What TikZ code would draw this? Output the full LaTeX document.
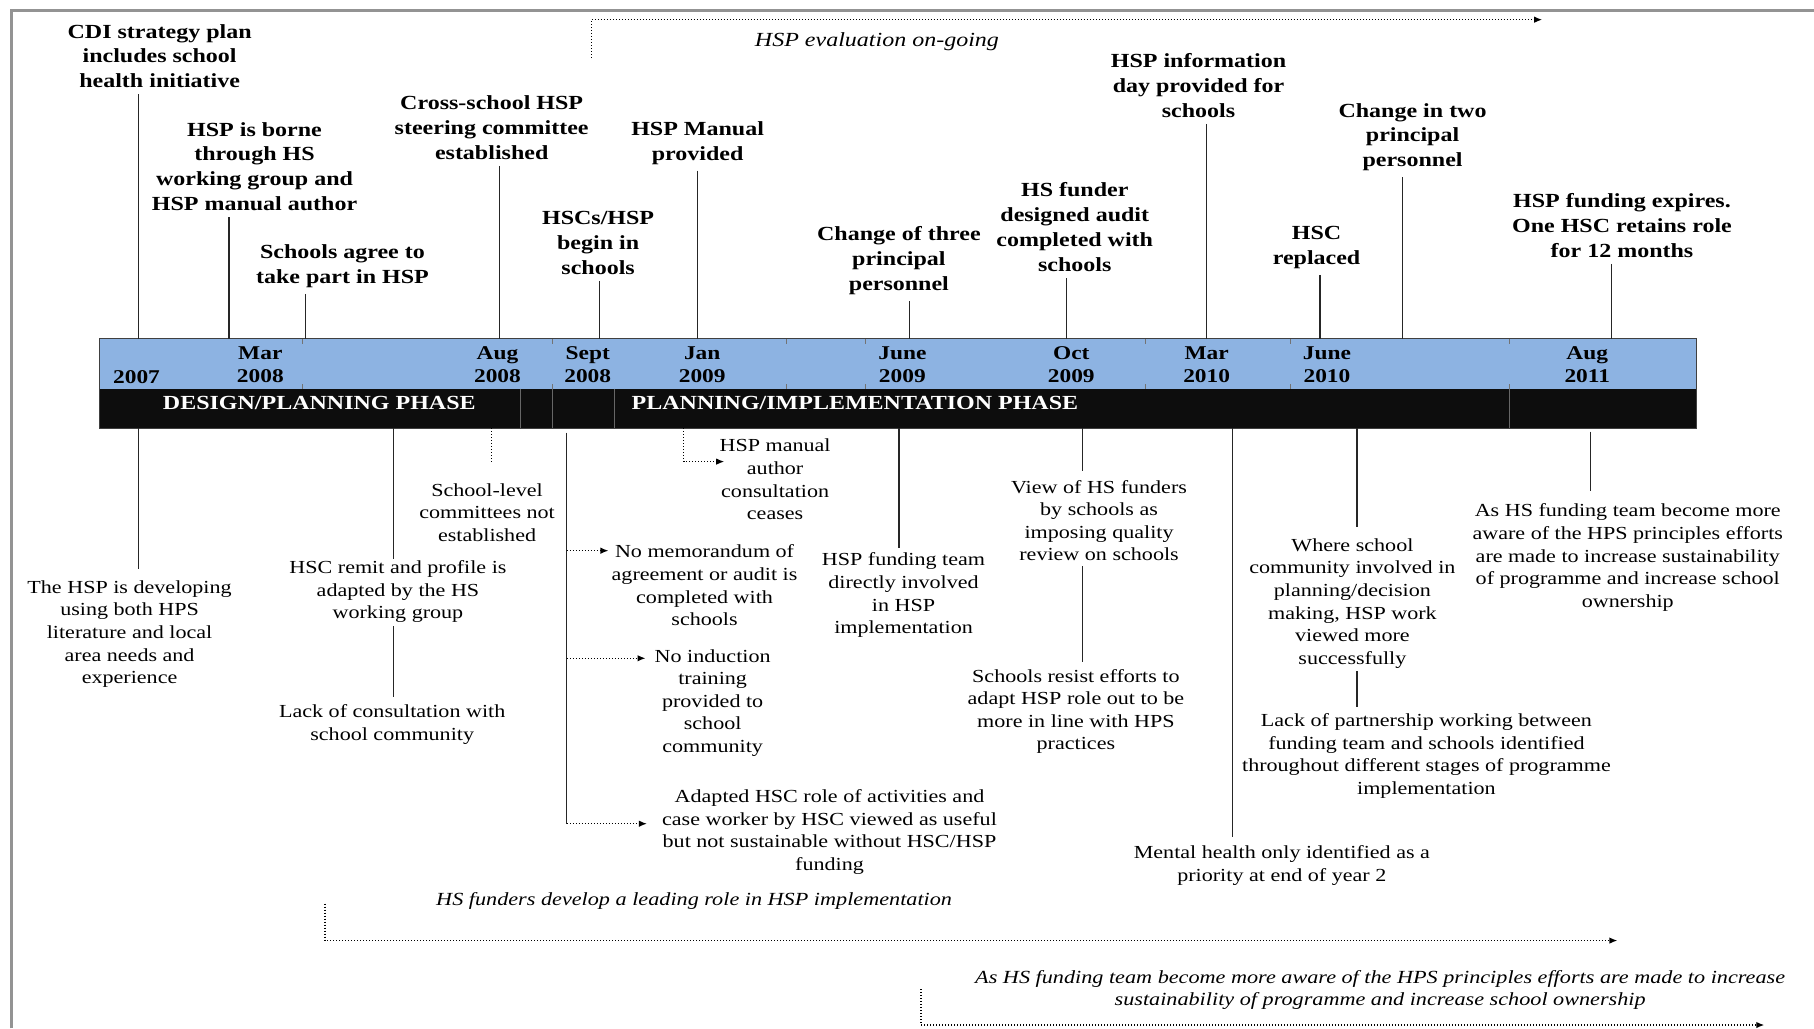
\documentclass[tikz,border=0pt]{standalone}
\usepackage{fontspec}
\setmainfont{Liberation Serif}[FakeStretch=1.2]
\usetikzlibrary{arrows.meta}
\definecolor{barblue}{HTML}{8DB3E2}
\definecolor{barblack}{HTML}{0D0D0D}
\begin{document}
\begin{tikzpicture}[x=1.157pt,y=-1.157pt,
  ev/.style={align=center,inner sep=1pt,font=\fontsize{20}{24.9}\selectfont\bfseries},
  nt/.style={align=center,inner sep=1pt,font=\fontsize{18.4}{22.6}\selectfont},
  itx/.style={align=center,inner sep=1pt,font=\fontsize{18.5}{22}\selectfont\itshape},
  yr/.style={align=center,inner sep=0pt,font=\fontsize{19.5}{23.1}\selectfont\bfseries},
  ph/.style={inner sep=0pt,text=white,font=\fontsize{20}{24}\selectfont\bfseries},
  ln/.style={line width=1.2pt,black!85},
  dl/.style={line width=1.3pt,dash pattern=on 1.3pt off 1.7pt},
  da/.style={dl,-{Latex[length=8pt,width=6.5pt]}},
  tick/.style={line width=0.6pt,black!55}
]
\useasboundingbox (0,0) rectangle (1568,889);
% frame
\draw[gray!85,line width=2.5pt] (10,889) -- (10,9) -- (1568,9);
% bar
\fill[barblue] (86,293) rectangle (1466,336);
\fill[barblack] (86,336) rectangle (1466,370);
\foreach \x in {261,477,680,748,990,1115,1305}{
  \draw[tick] (\x,293) -- (\x,297);
  \draw[tick] (\x,332) -- (\x,336);
}
\foreach \x in {450,477,531,1305}{
  \draw[line width=0.6pt,black!60!white] (\x,336) -- (\x,370);
}
\draw[line width=1pt,black!75] (86,293) rectangle (1466,370);
% year labels
\node[yr] (y1) at (118,326) {2007};
\node[yr] (y2) at (225,315) {Mar\\2008};
\node[yr] (y3) at (430,315) {Aug\\2008};
\node[yr] (y4) at (508,315) {Sept\\2008};
\node[yr] (y5) at (607,315) {Jan\\2009};
\node[yr] (y6) at (780,315) {June\\2009};
\node[yr] (y7) at (926,315) {Oct\\2009};
\node[yr] (y8) at (1043,315) {Mar\\2010};
\node[yr] (y9) at (1147,315) {June\\2010};
\node[yr] (y10) at (1372,315) {Aug\\2011};
\node[ph] (p1) at (276,348) {DESIGN/PLANNING PHASE};
\node[ph] (p2) at (739,348) {PLANNING/IMPLEMENTATION PHASE};
% coordinates on bar
\foreach \n/\x in {t1/120,t2/198,t3/264,t4/432,t5/518,t6/603,t7/786,t8/922,t9/1043,t10/1212,t11/1141,t12/1393}{
  \coordinate (\n) at (\x,293);
}
% top events
\node[ev] (e1) at (138,48.5) {CDI strategy plan\\includes school\\health initiative};
\node[ev] (e2) at (220,144) {HSP is borne\\through HS\\working group and\\HSP manual author};
\node[ev] (e3) at (296,230) {Schools agree to\\take part in HSP};
\node[ev] (e4) at (425,110.5) {Cross-school HSP\\steering committee\\established};
\node[ev] (e5) at (517,210) {HSCs/HSP\\begin in\\schools};
\node[ev] (e6) at (603,123.5) {HSP Manual\\provided};
\node[ev] (e7) at (777,225.5) {Change of three\\principal\\personnel};
\node[ev] (e8) at (929,196.5) {HS funder\\designed audit\\completed with\\schools};
\node[ev] (e9) at (1036,74) {HSP information\\day provided for\\schools};
\node[ev] (e10) at (1221,118.5) {Change in two\\principal\\personnel};
\node[ev] (e11) at (1138,214) {HSC\\replaced};
\node[ev] (e12) at (1402,195) {HSP funding expires.\\One HSC retains role\\for 12 months};
\foreach \i in {1,...,12}{
  \draw[ln,shorten <=5pt] (t\i |- e\i.south) -- (t\i);
}
% evaluation arrow
\coordinate (ev0) at (511,50);
\coordinate (ev1) at (1333,17);
\draw[da] (ev0) |- (ev1);
\node[itx,font=\fontsize{20}{24}\selectfont\itshape] (evl) at (758,36) {HSP evaluation on-going};
% bottom coordinates
\coordinate (u1) at (120,370);
\coordinate (u2) at (340,370);
\coordinate (u4) at (425,370);
\coordinate (u5) at (490,374);
\coordinate (u8) at (591,370);
\coordinate (u9) at (777,370);
\coordinate (u10) at (936,370);
\coordinate (u12) at (1065,370);
\coordinate (u13) at (1173,370);
\coordinate (u15) at (1375,373);
% bottom nodes
\node[nt] (b1) at (112,548) {The HSP is developing\\using both HPS\\literature and local\\area needs and\\experience};
\node[nt] (b2) at (344,511.5) {HSC remit and profile is\\adapted by the HS\\working group};
\node[nt] (b3) at (339,626) {Lack of consultation with\\school community};
\node[nt] (b4) at (421,443) {School-level\\committees not\\established};
\node[nt] (b5) at (609,506) {No memorandum of\\agreement or audit is\\completed with\\schools};
\node[nt] (b6) at (616,607.5) {No induction\\training\\provided to\\school\\community};
\node[nt] (b7) at (717,719) {Adapted HSC role of activities and\\case worker by HSC viewed as useful\\but not sustainable without HSC/HSP\\funding};
\node[nt] (b8) at (670,414.5) {HSP manual\\author\\consultation\\ceases};
\node[nt] (b9) at (781,514.5) {HSP funding team\\directly involved\\in HSP\\implementation};
\node[nt] (b10) at (950,450) {View of HS funders\\by schools as\\imposing quality\\review on schools};
\node[nt] (b11) at (930,615) {Schools resist efforts to\\adapt HSP role out to be\\more in line with HPS\\practices};
\node[nt] (b12) at (1108,748) {Mental health only identified as a\\priority at end of year 2};
\node[nt] (b13) at (1169,521.5) {Where school\\community involved in\\planning/decision\\making, HSP work\\viewed more\\successfully};
\node[nt] (b14) at (1233,653.5) {Lack of partnership working between\\funding team and schools identified\\throughout different stages of programme\\implementation};
\node[nt] (b15) at (1407,482) {As HS funding team become more\\aware of the HPS principles efforts\\are made to increase sustainability\\of programme and increase school\\ownership};
% bottom connectors
\draw[ln,shorten >=10pt] (u1) -- (u1 |- b1.north);
\draw[ln] (u2) -- (u2 |- b2.north);
\draw[ln,shorten <=2pt,shorten >=6pt] (u2 |- b2.south) -- (u2 |- b3.north);
\draw[dl] (u4) -- (425,399);
\coordinate (s3) at (490,712);
\draw[ln] (u5) -- (s3);
\coordinate (sA) at (490,476);
\coordinate (sB) at (490,569);
\draw[da,shorten >=2pt] (sA) -- (sA -| b5.west);
\draw[da,shorten >=8pt] (sB) -- (sB -| b6.west);
\draw[da,shorten >=14pt] (s3) -- (s3 -| b7.west);
\coordinate (j1) at (626,399);
\draw[da] (u8) |- (j1);
\draw[ln,shorten >=4pt] (u9) -- (u9 |- b9.north);
\draw[ln,shorten >=8pt] (u10) -- (u10 |- b10.north);
\draw[ln,shorten <=4pt,shorten >=6pt] (u10 |- b10.south) -- (u10 |- b11.north);
\draw[ln,shorten >=7pt] (u12) -- (u12 |- b12.north);
\draw[ln,shorten >=10pt] (u13) -- (u13 |- b13.north);
\draw[ln,shorten <=2pt,shorten >=6pt] (u13 |- b13.south) -- (u13 |- b14.north);
\draw[ln,shorten >=12pt] (u15) -- (u15 |- b15.north);
% bottom long arrows
\node[itx] (f1) at (600,779) {HS funders develop a leading role in HSP implementation};
\coordinate (fa0) at (281,781);
\coordinate (fa1) at (1398,813);
\draw[da] (fa0) |- (fa1);
\node[itx] (f2) at (1193,855.5) {As HS funding team become more aware of the HPS principles efforts are made to increase\\sustainability of programme and increase school ownership};
\coordinate (fb0) at (796,855);
\coordinate (fb1) at (1525,886);
\draw[da] (fb0) |- (fb1);
\end{tikzpicture}
\end{document}
